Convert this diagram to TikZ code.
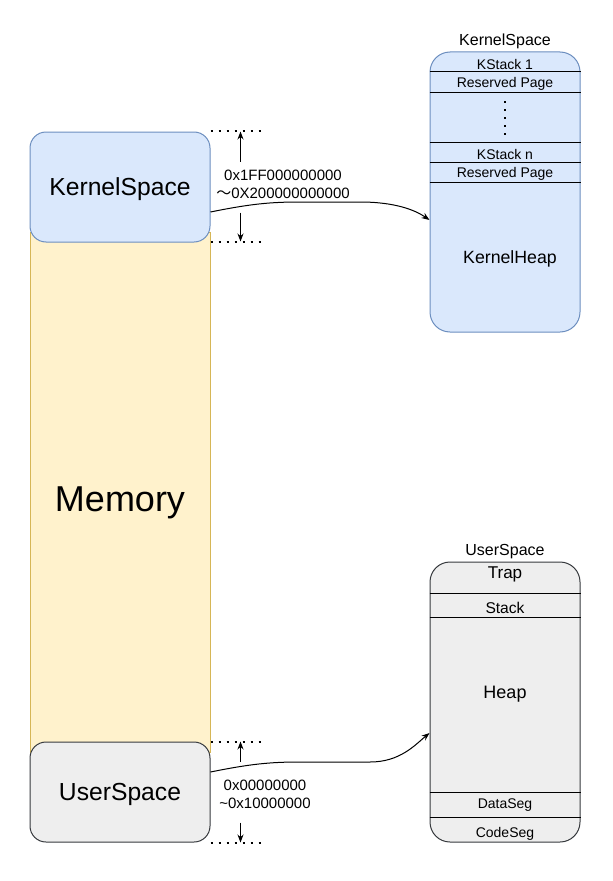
\documentclass[tikz,border=0pt]{standalone}
\usepackage{fontspec}
\setmainfont{Liberation Sans}
\newfontfamily\cjk{Noto Sans CJK SC}
\usetikzlibrary{positioning,arrows.meta,calc}
\definecolor{kfill}{HTML}{DAE8FC}
\definecolor{kline}{HTML}{6C8EBF}
\definecolor{mfill}{HTML}{FFF2CC}
\definecolor{mline}{HTML}{D6B656}
\definecolor{ufill}{HTML}{EEEEEE}
\definecolor{uline}{HTML}{36393D}
\tikzstyle{arrow} = [line width=0.75pt,-{Stealth[length=6pt,width=4.5pt]}]
\tikzstyle{dotrow} = [line width=1.5pt,dash pattern=on 1.5pt off 4.5pt]
\tikzstyle{region} = [draw,line width=0.75pt,rounded corners=12pt,minimum width=135pt,inner sep=0pt,text height=13pt,text depth=0pt]
\tikzstyle{seg} = [line width=0.75pt]
\tikzstyle{lbl} = [inner sep=0pt]
\newcommand{\fsz}[2]{\fontsize{#1}{#2}\selectfont}

\begin{document}
\begin{tikzpicture}[x=0.75pt,y=-0.75pt]
\useasboundingbox (0,0) rectangle (613,881);
% address space on the left
\node[region,rounded corners=0pt,fill=mfill,draw=mline,minimum height=390pt] (mem) at (120,492) {};
\node[lbl,font=\fsz{27}{32}] (memlbl) at (120,503) {Memory};
\node[region,fill=kfill,draw=kline,minimum height=82.5pt,font=\fsz{18.5}{22}] (ks) at (120,187) {KernelSpace};
\node[region,fill=ufill,draw=uline,minimum height=75pt,font=\fsz{18.5}{22}] (us) at (120,792) {UserSpace};

% kernel range marks
\draw[dotrow] ($(ks.north east)+(0,-1)$) -- ++(52,0);
\draw[dotrow] ($(ks.south east)+(0,-1)$) -- ++(52,0);
\draw[arrow] ($(ks.north east)+(30,30)$) -- ($(ks.north east)+(30,0)$);
\draw[arrow] ($(ks.south east)+(30,-30)$) -- ($(ks.south east)+(30,-1)$);
\node[lbl,align=center,font=\fsz{11.25}{13.5}] (kaddr) at (283,184) {0x1FF000000000\\{\cjk ～}0X200000000000};

% user range marks
\draw[dotrow] (us.north east) -- ++(52,0);
\draw[dotrow] (us.south east) -- ++(52,0);
\draw[arrow] ($(us.north east)+(30,20)$) -- ($(us.north east)+(30,0)$);
\draw[arrow] ($(us.south east)+(30,-20)$) -- ($(us.south east)+(30,0)$);
\node[lbl,align=center,font=\fsz{11.25}{13.5}] (uaddr) at (265,794) {0x00000000\\\textasciitilde 0x10000000};

% kernel layout
\node[region,rounded corners=15pt,minimum width=112.5pt,minimum height=210pt,fill=kfill,draw=kline] (kmap) at (505,192) {};
\node[lbl,above=2pt of kmap,font=\fsz{12}{14}] (ktitle) {KernelSpace};
\foreach \y in {72,92,142,162,182}
  \draw[seg] (kmap.west |- 0,\y) -- (kmap.east |- 0,\y);
\node[lbl,font=\fsz{10.5}{12}] (kst1) at (505,64) {KStack 1};
\node[lbl,font=\fsz{10.5}{12}] (rsv1) at (505,84) {Reserved Page};
\draw[dotrow] (505,101) -- (505,141);
\node[lbl,font=\fsz{10.5}{12}] (kstn) at (505,154) {KStack n};
\node[lbl,font=\fsz{10.5}{12}] (rsvn) at (505,174) {Reserved Page};
\node[lbl,font=\fsz{13.3}{16}] (kheap) at (510,259) {KernelHeap};

% user layout
\node[region,rounded corners=15pt,minimum width=112.5pt,minimum height=210pt,fill=ufill,draw=uline] (umap) at (505,702) {};
\node[lbl,above=2pt of umap,font=\fsz{12}{14}] (utitle) {UserSpace};
\foreach \y in {593,617,792,817}
  \draw[seg] (umap.west |- 0,\y) -- (umap.east |- 0,\y);
\node[lbl,font=\fsz{12.8}{15}] (trap) at (505,574) {Trap};
\node[lbl,font=\fsz{11.7}{14}] (stack) at (505,608) {Stack};
\node[lbl,font=\fsz{13.5}{16}] (heap) at (505,694) {Heap};
\node[lbl,font=\fsz{10.5}{12}] (data) at (505,805) {DataSeg};
\node[lbl,font=\fsz{10.5}{12}] (code) at (505,834) {CodeSeg};

% mappings
\draw[arrow] ($(ks.east)+(0,25)$) .. controls (250,204) and (270,202) .. (300,202) -- (360,202) .. controls (395,202) and (415,210) .. ($(kmap.west)+(0,28)$);
\draw[arrow] ($(us.east)+(0,-20)$) .. controls (250,764) and (270,762) .. (300,762) -- (370,762) .. controls (400,762) and (415,745) .. ($(umap.west)+(0,31)$);
\end{tikzpicture}
\end{document}
